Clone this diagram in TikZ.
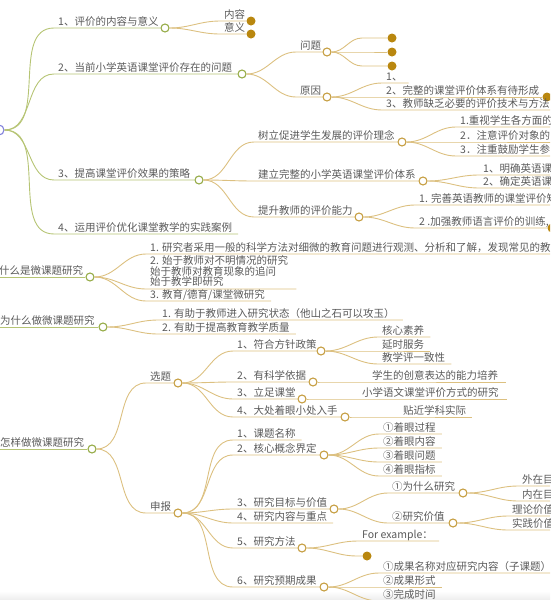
\documentclass[tikz,border=0pt]{standalone}
\usepackage{fontspec}
\setmainfont{Noto Sans CJK SC}
\definecolor{gline}{RGB}{182,196,116}
\definecolor{gcirc}{RGB}{150,172,72}
\definecolor{tline}{RGB}{220,192,128}
\definecolor{tcirc}{RGB}{198,158,66}
\definecolor{dotc}{RGB}{185,135,15}
\definecolor{txt}{RGB}{90,90,90}
\definecolor{rootc}{RGB}{130,130,220}
\newcommand\mm[4]{\draw[#1] (#2) to[out=0,in=180] ([shift={(-4pt,-3pt)}]#3.base west) -- #4;}
\tikzset{
  lbl/.style={anchor=base west, inner sep=0pt, text=txt, font=\fontsize{10.5}{10.5}\selectfont},
  gl/.style={draw=gline, line width=0.9pt},
  tl/.style={draw=tline, line width=0.9pt},
  gc/.style={circle, draw=gcirc, fill=white, line width=1.1pt, minimum size=8pt, inner sep=0pt},
  tc/.style={circle, draw=tcirc, fill=white, line width=1.1pt, minimum size=8pt, inner sep=0pt},
  fc/.style={circle, fill=dotc, minimum size=9pt, inner sep=0pt},
  rc/.style={circle, draw=rootc, fill=white, line width=1.1pt, minimum size=10pt, inner sep=0pt}
}
\begin{document}
\begin{tikzpicture}[x=1pt,y=-1pt]
\useasboundingbox (0,0) rectangle (550,600);
\clip (0,0) rectangle (550,600);
\shade[top color=white,bottom color=black!7] (0,591) rectangle (550,600);

% ---------- upper map ----------
\node[rc] (root) at (-1,130) {};
\node[lbl] (a1) at (58,25) {1、评价的内容与意义};
\node[gc] (a1c) at (165,28) {};
\node[lbl] (a2) at (58,71) {2、当前小学英语课堂评价存在的问题};
\node[gc] (a2c) at (242,74) {};
\node[lbl] (a3) at (58,177) {3、提高课堂评价效果的策略};
\node[gc] (a3c) at (199,180) {};
\node[lbl] (a4) at (58,231) {4、运用评价优化课堂教学的实践案例};

\node[lbl] (a11) at (224,18) {内容};
\node[fc] (a11c) at (251,21) {};
\node[lbl] (a12) at (224,31) {意义};
\node[fc] (a12c) at (251,34) {};

\node[lbl] (q) at (300,49) {问题};
\node[tc] (qc) at (327,52) {};
\node[fc] (q1) at (392,38) {};
\node[fc] (q2) at (392,52) {};
\node[fc] (q3) at (392,66) {};
\coordinate (q1s) at (362,38);
\coordinate (q2s) at (362,52);
\coordinate (q3s) at (362,66);
\node[lbl] (r) at (300,94) {原因};
\node[tc] (rc) at (327,97) {};
\node[lbl] (r1) at (386,80) {1、};
\node[lbl] (r2) at (386,94) {2、完整的课堂评价体系有待形成};
\node[fc] (r2c) at (547,97) {};
\node[lbl] (r3) at (386,107) {3、教师缺乏必要的评价技术与方法};
\coordinate (r3e) at (560,110);

\node[lbl] (b1) at (258,139) {树立促进学生发展的评价理念};
\node[tc] (b1c) at (402,142) {};
\node[lbl] (b11) at (460,124) {1.重视学生各方面的};
\node[lbl] (b12) at (460,139) {2．注意评价对象的};
\node[lbl] (b13) at (460,153) {3．注重鼓励学生参};
\coordinate (b11e) at (560,127);
\coordinate (b12e) at (560,142);
\coordinate (b13e) at (560,156);
\node[lbl] (b2) at (258,178) {建立完整的小学英语课堂评价体系};
\node[tc] (b2c) at (423,181) {};
\node[lbl] (b21) at (483,172) {1、明确英语课};
\node[lbl] (b22) at (483,185) {2、确定英语课};
\coordinate (b21e) at (560,175);
\coordinate (b22e) at (560,188);
\node[lbl] (b3) at (258,214) {提升教师的评价能力};
\node[tc] (b3c) at (359,217) {};
\node[lbl] (b31) at (419,202) {1. 完善英语教师的课堂评价知};
\node[lbl] (b32) at (419,225) {2 .加强教师语言评价的训练,};
\node[fc] (b32c) at (552,228) {};
\coordinate (b31e) at (560,205);

\mm{gl}{root.east}{a1}{(a1c.west)}
\mm{gl}{root.east}{a2}{(a2c.west)}
\mm{gl}{root.east}{a3}{(a3c.west)}
\mm{gl}{root.east}{a4}{([shift={(6pt,-3pt)}]a4.base east)}

\mm{tl}{a1c.east}{a11}{(a11c.west)}
\mm{tl}{a1c.east}{a12}{(a12c.west)}
\mm{tl}{a2c.east}{q}{(qc.west)}
\mm{tl}{a2c.east}{r}{(rc.west)}
\draw[tl] (qc.east) to[out=0,in=180] (q1s) -- (q1.west);
\draw[tl] (qc.east) to[out=0,in=180] (q2s) -- (q2.west);
\draw[tl] (qc.east) to[out=0,in=180] (q3s) -- (q3.west);
\mm{tl}{rc.east}{r1}{([shift={(6pt,-3pt)}]r1.base east)}
\mm{tl}{rc.east}{r2}{(r2c.west)}
\mm{tl}{rc.east}{r3}{(r3e)}

\mm{tl}{a3c.east}{b1}{(b1c.west)}
\mm{tl}{a3c.east}{b2}{(b2c.west)}
\mm{tl}{a3c.east}{b3}{(b3c.west)}
\mm{tl}{b1c.east}{b11}{(b11e)}
\mm{tl}{b1c.east}{b12}{(b12e)}
\mm{tl}{b1c.east}{b13}{(b13e)}
\mm{tl}{b2c.east}{b21}{(b21e)}
\mm{tl}{b2c.east}{b22}{(b22e)}
\mm{tl}{b3c.east}{b31}{(b31e)}
\mm{tl}{b3c.east}{b32}{(b32c.west)}

% ---------- lower map ----------
\node[lbl] (c1) at (-1,274) {什么是微课题研究};
\node[gc] (c1c) at (90,277) {};
\coordinate (c1in) at (-10,277);
\node[lbl] (c11) at (150,251) {1. 研究者采用一般的科学方法对细微的教育问题进行观测、分析和了解，发现常见的教};
\coordinate (c11e) at (560,254);
\node[lbl, anchor=south west, align=left] (c12) at (150,287) {2. 始于教师对不明情况的研究\\始于教师对教育现象的追问\\始于教学即研究};
\node[lbl] (c13) at (150,298) {3. 教育/德育/课堂微研究};

\node[lbl] (c2) at (0,324) {为什么做微课题研究};
\node[gc] (c2c) at (103,327) {};
\coordinate (c2in) at (-10,327);
\node[lbl] (c21) at (162,317) {1. 有助于教师进入研究状态（他山之石可以攻玉）};
\node[lbl] (c22) at (162,331) {2. 有助于提高教育教学质量};

\node[lbl] (c3) at (0,446) {怎样做微课题研究};
\node[gc] (c3c) at (92,449) {};
\coordinate (c3in) at (-10,449);

\node[lbl] (d1) at (150,380) {选题};
\node[tc] (d1c) at (178,383) {};
\node[lbl] (e1) at (237,348) {1、符合方针政策};
\node[tc] (e1c) at (321,351) {};
\node[lbl] (e11) at (382,334) {核心素养};
\node[lbl] (e12) at (382,348) {延时服务};
\node[lbl] (e13) at (382,361) {教学评一致性};
\node[lbl] (e2) at (237,379) {2、有科学依据};
\node[tc] (e2c) at (313,382) {};
\node[lbl] (e21) at (372,379) {学生的创意表达的能力培养};
\node[lbl] (e3) at (237,396) {3、立足课堂};
\node[tc] (e3c) at (302,399) {};
\node[lbl] (e31) at (362,396) {小学语文课堂评价方式的研究};
\node[lbl] (e4) at (237,414) {4、大处着眼小处入手};
\node[tc] (e4c) at (345,417) {};
\node[lbl] (e41) at (403,414) {贴近学科实际};

\node[lbl] (d2) at (150,510) {申报};
\node[tc] (d2c) at (178,513) {};
\node[lbl] (f1) at (237,437) {1、课题名称};
\node[lbl] (f2) at (237,452) {2、核心概念界定};
\node[tc] (f2c) at (324,455) {};
\node[lbl] (f21) at (383,431) {①着眼过程};
\node[lbl] (f22) at (383,445) {②着眼内容};
\node[lbl] (f23) at (383,459) {③着眼问题};
\node[lbl] (f24) at (383,473) {④着眼指标};
\node[lbl] (f3) at (237,506) {3、研究目标与价值};
\node[tc] (f3c) at (334,509) {};
\node[lbl] (g1) at (392,490) {①为什么研究};
\node[tc] (g1c) at (463,493) {};
\node[lbl] (g11) at (522,483) {外在目};
\node[lbl] (g12) at (522,498) {内在目};
\coordinate (g11e) at (560,486);
\coordinate (g12e) at (560,501);
\node[lbl] (g2) at (392,520) {②研究价值};
\node[tc] (g2c) at (453,523) {};
\node[lbl] (g21) at (512,513) {理论价值};
\node[lbl] (g22) at (512,527) {实践价值};
\coordinate (g21e) at (560,516);
\coordinate (g22e) at (560,530);
\node[lbl] (f4) at (237,520) {4、研究内容与重点};
\node[lbl] (f5) at (237,545) {5、研究方法};
\node[tc] (f5c) at (302,548) {};
\node[lbl] (f51) at (362,538) {For example：};
\node[fc] (f52) at (367,556) {};
\coordinate (f52s) at (357,556);
\node[lbl] (f6) at (237,584) {6、研究预期成果};
\node[tc] (f6c) at (324,587) {};
\node[lbl] (f61) at (383,570) {①成果名称对应研究内容（子课题）};
\coordinate (f61e) at (560,573);
\node[lbl] (f62) at (383,584) {②成果形式};
\node[lbl] (f63) at (383,598) {③完成时间};

\draw[gl] (c1in) -- (c1c.west);
\draw[gl] (c2in) -- (c2c.west);
\draw[gl] (c3in) -- (c3c.west);

\mm{tl}{c1c.east}{c11}{(c11e)}
\draw[tl] (c1c.east) to[out=0,in=180] ([shift={(-4pt,-2pt)}]c12.south west) -- ([shift={(8pt,-2pt)}]c12.south east);
\mm{tl}{c1c.east}{c13}{([shift={(6pt,-3pt)}]c13.base east)}
\mm{tl}{c2c.east}{c21}{([shift={(8pt,-3pt)}]c21.base east)}
\mm{tl}{c2c.east}{c22}{([shift={(6pt,-3pt)}]c22.base east)}

\mm{tl}{c3c.east}{d1}{(d1c.west)}
\mm{tl}{c3c.east}{d2}{(d2c.west)}
\mm{tl}{d1c.east}{e1}{(e1c.west)}
\mm{tl}{d1c.east}{e2}{(e2c.west)}
\mm{tl}{d1c.east}{e3}{(e3c.west)}
\mm{tl}{d1c.east}{e4}{(e4c.west)}
\mm{tl}{e1c.east}{e11}{([shift={(6pt,-3pt)}]e11.base east)}
\mm{tl}{e1c.east}{e12}{([shift={(6pt,-3pt)}]e12.base east)}
\mm{tl}{e1c.east}{e13}{([shift={(6pt,-3pt)}]e13.base east)}
\mm{tl}{e2c.east}{e21}{([shift={(8pt,-3pt)}]e21.base east)}
\mm{tl}{e3c.east}{e31}{([shift={(8pt,-3pt)}]e31.base east)}
\mm{tl}{e4c.east}{e41}{([shift={(6pt,-3pt)}]e41.base east)}

\mm{tl}{d2c.east}{f1}{([shift={(6pt,-3pt)}]f1.base east)}
\mm{tl}{d2c.east}{f2}{(f2c.west)}
\mm{tl}{d2c.east}{f3}{(f3c.west)}
\mm{tl}{d2c.east}{f4}{([shift={(6pt,-3pt)}]f4.base east)}
\mm{tl}{d2c.east}{f5}{(f5c.west)}
\mm{tl}{d2c.east}{f6}{(f6c.west)}
\mm{tl}{f2c.east}{f21}{([shift={(6pt,-3pt)}]f21.base east)}
\mm{tl}{f2c.east}{f22}{([shift={(6pt,-3pt)}]f22.base east)}
\mm{tl}{f2c.east}{f23}{([shift={(6pt,-3pt)}]f23.base east)}
\mm{tl}{f2c.east}{f24}{([shift={(6pt,-3pt)}]f24.base east)}
\mm{tl}{f3c.east}{g1}{(g1c.west)}
\mm{tl}{f3c.east}{g2}{(g2c.west)}
\mm{tl}{g1c.east}{g11}{(g11e)}
\mm{tl}{g1c.east}{g12}{(g12e)}
\mm{tl}{g2c.east}{g21}{(g21e)}
\mm{tl}{g2c.east}{g22}{(g22e)}
\mm{tl}{f5c.east}{f51}{([shift={(6pt,-3pt)}]f51.base east)}
\draw[tl] (f5c.east) to[out=0,in=180] (f52s) -- (f52.west);
\mm{tl}{f6c.east}{f61}{(f61e)}
\mm{tl}{f6c.east}{f62}{([shift={(6pt,-3pt)}]f62.base east)}
\mm{tl}{f6c.east}{f63}{([shift={(6pt,-3pt)}]f63.base east)}
\end{tikzpicture}
\end{document}
